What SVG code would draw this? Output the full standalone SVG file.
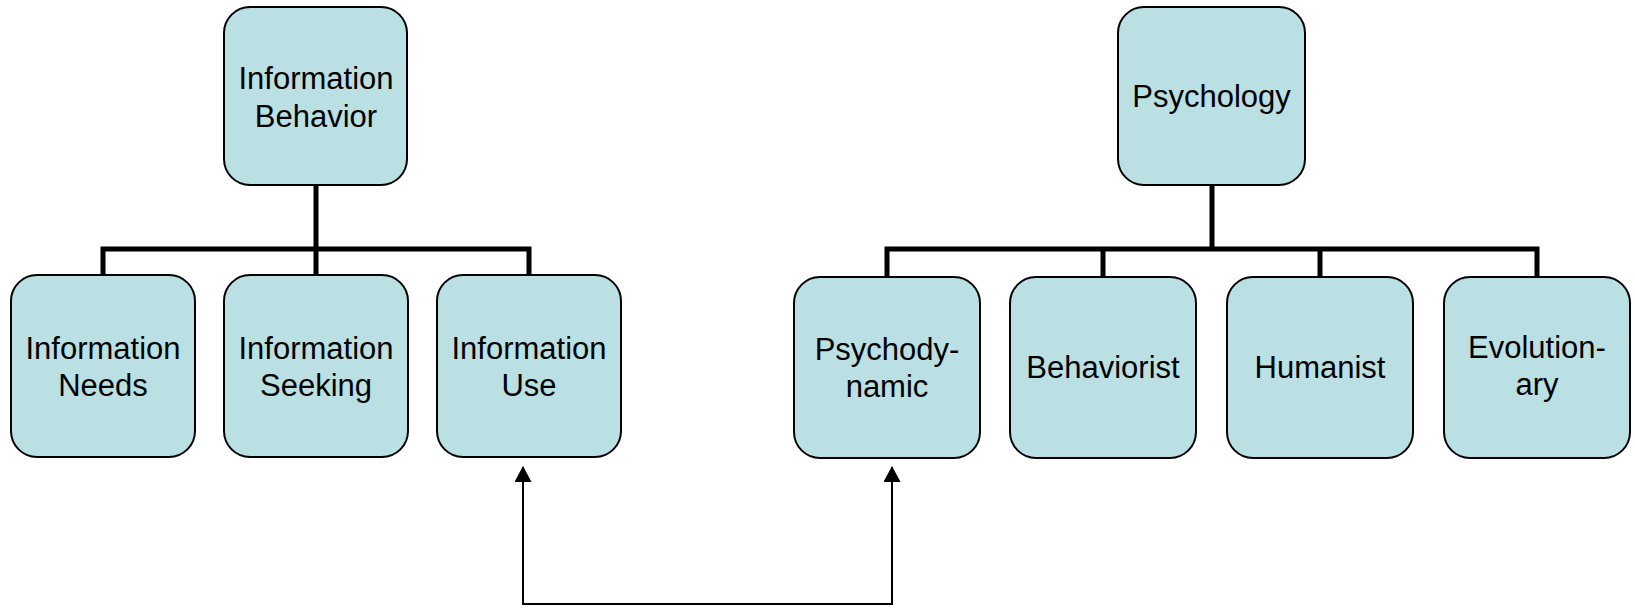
<svg xmlns="http://www.w3.org/2000/svg" width="1635" height="608" viewBox="0 0 1635 608">
<defs>
<style>
.box{fill:#BAE0E3;stroke:#000;stroke-width:2}
.lbl{font-family:"Liberation Sans",Arial,sans-serif;font-size:31px;fill:#000;text-anchor:middle}
.tree{fill:none;stroke:#000;stroke-width:5;stroke-linejoin:miter}
.link{fill:none;stroke:#000;stroke-width:2}
</style>
<marker id="arr" viewBox="0 0 16 17" refX="15" refY="8.5" markerWidth="16" markerHeight="17" markerUnits="userSpaceOnUse" orient="auto-start-reverse">
<path d="M0,0 L16,8.5 L0,17 Z" fill="#000"/>
</marker>
</defs>
<g id="connectors">
<path class="tree" d="M316,185 V275"/>
<path class="tree" d="M103,275 V249 H529 V275"/>
<path class="tree" d="M1212,185 V249"/>
<path class="tree" d="M887,277 V249 H1537 V277"/>
<path class="tree" d="M1103,249 V277"/>
<path class="tree" d="M1320,249 V277"/>
<path class="link" d="M523,467 V604 H892 V467" marker-start="url(#arr)" marker-end="url(#arr)"/>
</g>
<g id="info-behavior">
<rect class="box" x="224" y="7" width="183" height="178" rx="26"/>
<text class="lbl" x="316" y="89">Information</text>
<text class="lbl" x="316" y="127">Behavior</text>
</g>
<g id="info-needs">
<rect class="box" x="11" y="275" width="184" height="182" rx="26"/>
<text class="lbl" x="103" y="359">Information</text>
<text class="lbl" x="103" y="396">Needs</text>
</g>
<g id="info-seeking">
<rect class="box" x="224" y="275" width="184" height="182" rx="26"/>
<text class="lbl" x="316" y="359">Information</text>
<text class="lbl" x="316" y="396">Seeking</text>
</g>
<g id="info-use">
<rect class="box" x="437" y="275" width="184" height="182" rx="26"/>
<text class="lbl" x="529" y="359">Information</text>
<text class="lbl" x="529" y="396">Use</text>
</g>
<g id="psychology">
<rect class="box" x="1118" y="7" width="187" height="178" rx="26"/>
<text class="lbl" x="1211.5" y="107">Psychology</text>
</g>
<g id="psychodynamic">
<rect class="box" x="794" y="277" width="186" height="181" rx="26"/>
<text class="lbl" x="887" y="360">Psychody-</text>
<text class="lbl" x="887" y="397">namic</text>
</g>
<g id="behaviorist">
<rect class="box" x="1010" y="277" width="186" height="181" rx="26"/>
<text class="lbl" x="1103" y="378">Behaviorist</text>
</g>
<g id="humanist">
<rect class="box" x="1227" y="277" width="186" height="181" rx="26"/>
<text class="lbl" x="1320" y="378">Humanist</text>
</g>
<g id="evolutionary">
<rect class="box" x="1444" y="277" width="186" height="181" rx="26"/>
<text class="lbl" x="1537" y="358">Evolution-</text>
<text class="lbl" x="1537" y="395">ary</text>
</g>
</svg>
